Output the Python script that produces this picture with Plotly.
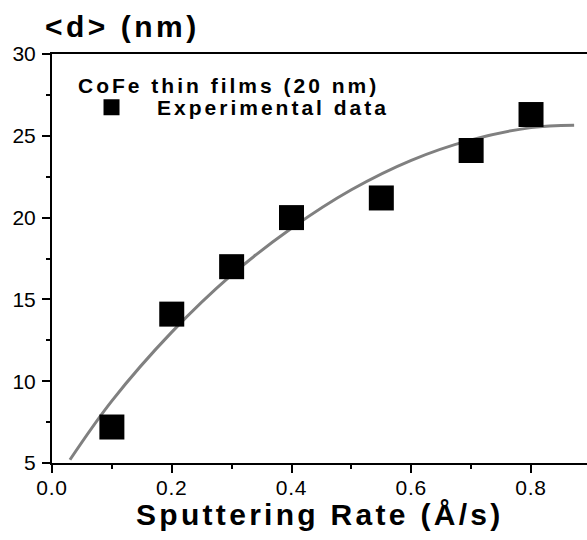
import plotly.graph_objects as go

# Experimental data
rate = [0.1, 0.2, 0.3, 0.4, 0.55, 0.7, 0.8]
size_nm = [7.2, 14.1, 17.0, 20.0, 21.2, 24.1, 26.3]

# Fit curve
fit_rate = [0.03, 0.1, 0.2, 0.3, 0.4, 0.5, 0.6, 0.7, 0.8, 0.872]
fit_size = [5.2, 8.8, 13.0, 16.5, 19.35, 21.7, 23.5, 24.75, 25.5, 25.65]

x_ticks = [0.0, 0.2, 0.4, 0.6, 0.8]
y_ticks = [5, 10, 15, 20, 25, 30]

FONT = "Liberation Sans, Arial, Helvetica, sans-serif"


def spaced(text, px, bold=False):
    t = f'<span style="letter-spacing:{px}px">{text}</span>'
    return f"<b>{t}</b>" if bold else t


fig = go.Figure()
fig.add_trace(go.Scatter(
    x=fit_rate, y=fit_size, mode="lines", line=dict(color="#808080", width=3, shape="spline"),
    showlegend=False, hoverinfo="skip"))
fig.add_trace(go.Scatter(
    x=rate, y=size_nm, mode="markers", name=spaced("Experimental data", 3, True),
    marker=dict(symbol="square", size=25, color="black", line=dict(width=0))))

fig.update_layout(
    width=587, height=540,
    margin=dict(l=52, r=0, t=54, b=77),
    paper_bgcolor="white", plot_bgcolor="white",
    font=dict(family=FONT, color="black"),
    showlegend=True,
    legend=dict(x=0.0262, y=0.919, xanchor="left", yanchor="top", bgcolor="rgba(0,0,0,0)",
                font=dict(size=21, family=FONT), itemwidth=81),
    xaxis=dict(range=[0, 0.8935], tickvals=x_ticks, ticktext=[spaced(f"{v:.1f}", 0.75) for v in x_ticks],
               showline=True, linecolor="black", linewidth=2, mirror=True,
               ticks="outside", ticklen=8, tickwidth=2, tickcolor="black",
               tickfont=dict(size=21), showgrid=False, zeroline=False, ticklabelstandoff=-3,
               minor=dict(dtick=0.1, tick0=0, ticks="outside", ticklen=4, tickwidth=2, tickcolor="black", showgrid=False)),
    yaxis=dict(range=[5, 30], tickvals=y_ticks, ticktext=[str(v) for v in y_ticks],
               showline=True, linecolor="black", linewidth=2, mirror=False,
               ticks="outside", ticklen=8, tickwidth=2, tickcolor="black",
               tickfont=dict(size=21), showgrid=False, zeroline=False, ticklabelstandoff=2,
               minor=dict(dtick=2.5, tick0=0, ticks="outside", ticklen=4, tickwidth=2, tickcolor="black", showgrid=False)),
    annotations=[
        dict(text=spaced("&lt;d&gt; (nm)", 3.5, True), xref="paper", yref="paper",
             x=(43 - 52) / 535, y=1 + (54 - 27) / 409, xanchor="left", yanchor="middle",
             showarrow=False, font=dict(size=30)),
        dict(text=spaced("Sputtering Rate (Å/s)", 3.3, True), xref="paper", yref="paper",
             x=0.5, y=(463 - 514) / 409, xanchor="center", yanchor="middle",
             showarrow=False, font=dict(size=30)),
        dict(text=spaced("CoFe thin films (20 nm)", 3, True), xref="paper", yref="paper",
             x=(76 - 52) / 535, y=1 - (85.5 - 54) / 409, xanchor="left", yanchor="middle",
             showarrow=False, font=dict(size=21)),
    ],
)

fig.write_html("out.html")
